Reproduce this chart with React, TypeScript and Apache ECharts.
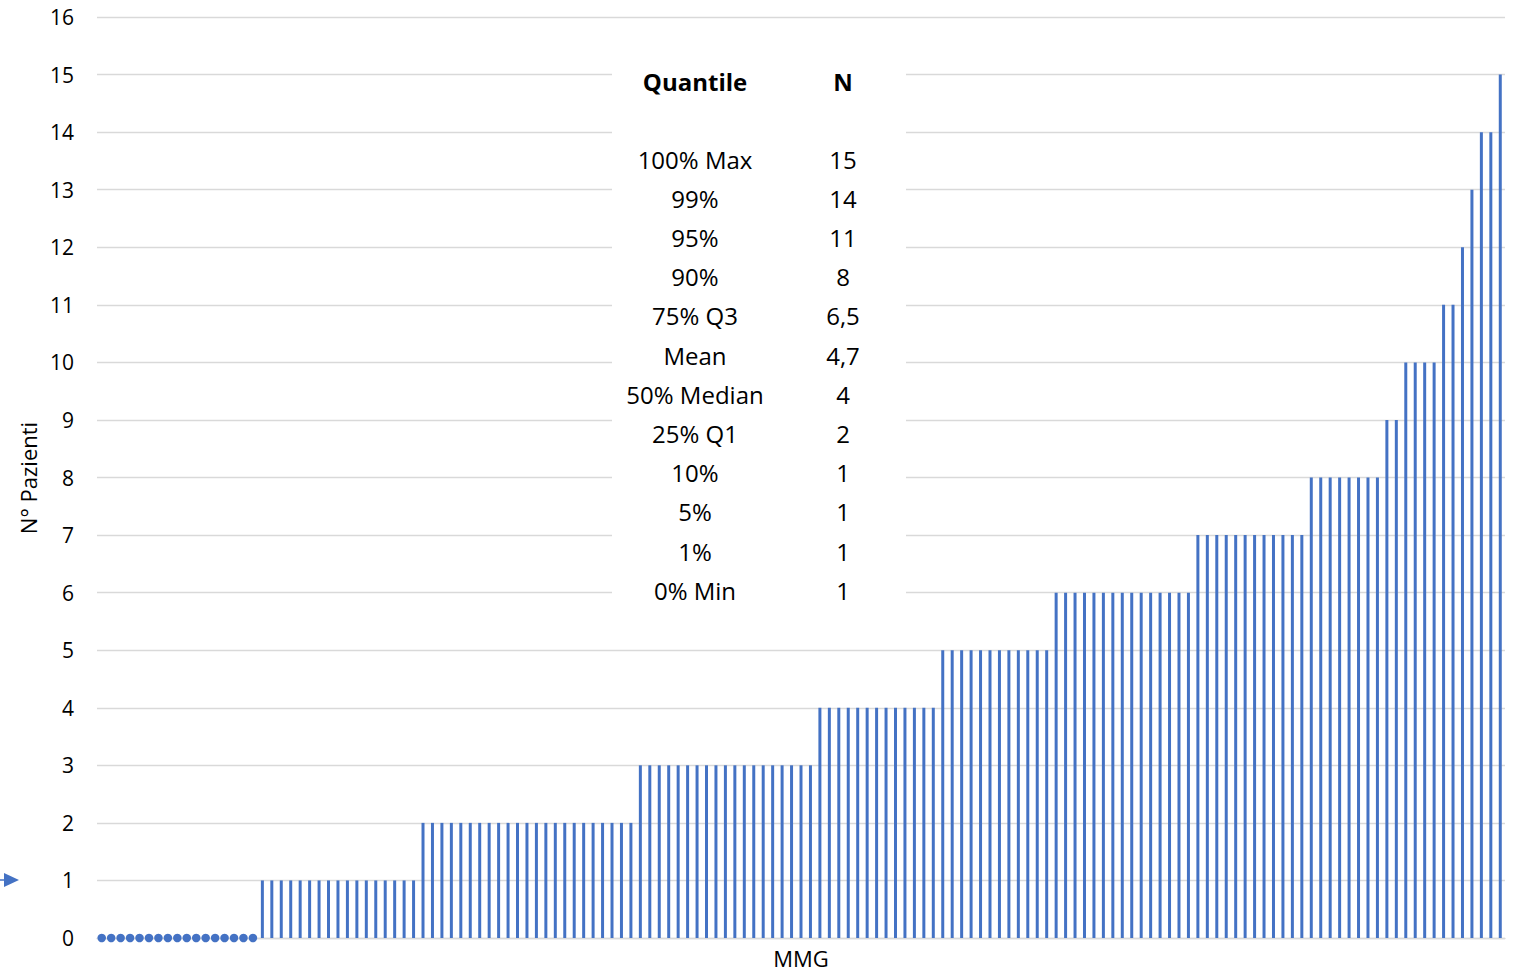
import React, { useEffect, useRef } from "react";
import * as echarts from "echarts";

// N° Pazienti per MMG, sorted ascending
const values: number[] = [
  0, 0, 0, 0, 0, 0, 0, 0, 0, 0, 0, 0, 0, 0, 0, 0, 0,
  1, 1, 1, 1, 1, 1, 1, 1, 1, 1, 1, 1, 1, 1, 1, 1, 1,
  2, 2, 2, 2, 2, 2, 2, 2, 2, 2, 2, 2, 2, 2, 2, 2, 2, 2, 2, 2, 2, 2, 2,
  3, 3, 3, 3, 3, 3, 3, 3, 3, 3, 3, 3, 3, 3, 3, 3, 3, 3, 3,
  4, 4, 4, 4, 4, 4, 4, 4, 4, 4, 4, 4, 4,
  5, 5, 5, 5, 5, 5, 5, 5, 5, 5, 5, 5,
  6, 6, 6, 6, 6, 6, 6, 6, 6, 6, 6, 6, 6, 6, 6,
  7, 7, 7, 7, 7, 7, 7, 7, 7, 7, 7, 7,
  8, 8, 8, 8, 8, 8, 8, 8,
  9, 9,
  10, 10, 10, 10,
  11, 11,
  12,
  13,
  14, 14,
  15,
];
const categories: string[] = values.map((_, i) => `MMG ${i + 1}`);

const quantileLabels: string[] = [
  "100% Max", "99%", "95%", "90%", "75% Q3", "Mean",
  "50% Median", "25% Q1", "10%", "5%", "1%", "0% Min",
];
const quantileValues: string[] = ["15", "14", "11", "8", "6,5", "4,7", "4", "2", "1", "1", "1", "1"];

const yTicks = { min: 0, max: 16, interval: 1 };

const BLUE = "#4472c4";
const FONT = "'Open Sans', sans-serif";

export default function App() {
  const ref = useRef<HTMLDivElement>(null);
  useEffect(() => {
    if (!ref.current) return;
    const chart = echarts.init(ref.current, null, { renderer: "svg" });

    const tableTexts: any[] = [];
    tableTexts.push({
      type: "text", x: 695, y: 81, z: 20,
      style: { text: "Quantile", fill: "#000", font: `bold 24px ${FONT}`, align: "center", verticalAlign: "middle" },
    });
    tableTexts.push({
      type: "text", x: 843, y: 81, z: 20,
      style: { text: "N", fill: "#000", font: `bold 24px ${FONT}`, align: "center", verticalAlign: "middle" },
    });
    quantileLabels.forEach((lab, i) => {
      const y = 159 + i * 39.2;
      tableTexts.push({
        type: "text", x: 695, y, z: 20,
        style: { text: lab, fill: "#000", font: `24px ${FONT}`, align: "center", verticalAlign: "middle" },
      });
      tableTexts.push({
        type: "text", x: 843, y, z: 20,
        style: { text: quantileValues[i], fill: "#000", font: `24px ${FONT}`, align: "center", verticalAlign: "middle" },
      });
    });

    chart.setOption({
      animation: false,
      backgroundColor: "#fff",
      grid: { left: 97, right: 12, top: 17, bottom: 34, containLabel: false },
      xAxis: {
        type: "category",
        data: categories,
        axisLine: { show: true, lineStyle: { color: "#d9d9d9", width: 1.3 } },
        axisTick: { show: false },
        axisLabel: { show: false },
        splitLine: { show: false },
      },
      yAxis: {
        type: "value",
        min: yTicks.min,
        max: yTicks.max,
        interval: yTicks.interval,
        axisLine: { show: false },
        axisTick: { show: false },
        axisLabel: { color: "#000", fontSize: 21, fontFamily: FONT, margin: 23 },
        splitLine: { lineStyle: { color: "#d9d9d9", width: 1.3 } },
      },
      series: [
        {
          type: "bar",
          data: values,
          barWidth: 3,
          itemStyle: { color: BLUE },
          z: 2,
        },
        {
          type: "scatter",
          data: values.map((v) => (v === 0 ? v : "-")),
          symbol: "circle",
          symbolSize: 8.5,
          itemStyle: { color: BLUE, opacity: 1 },
          z: 3,
        },
      ],
      graphic: [
        {
          type: "rect", z: 10,
          shape: { x: 612, y: 40, width: 294, height: 572 },
          style: { fill: "#fff" },
        },
        ...tableTexts,
        {
          type: "text", x: 801, y: 958, z: 20,
          style: { text: "MMG", fill: "#000", font: `22px ${FONT}`, align: "center", verticalAlign: "middle" },
        },
        {
          type: "text", x: 28, y: 478, rotation: Math.PI / 2, z: 20,
          style: { text: "N° Pazienti", fill: "#000", font: `22px ${FONT}`, align: "center", verticalAlign: "middle" },
        },
        {
          type: "line", z: 20,
          shape: { x1: 0, y1: 880, x2: 5, y2: 880 },
          style: { stroke: BLUE, lineWidth: 1.5 },
        },
        {
          type: "polygon", z: 20,
          shape: { points: [[4, 873], [19, 880], [4, 887]] },
          style: { fill: BLUE },
        },
      ],
    });
    return () => chart.dispose();
  }, []);
  return (
    <div
      ref={ref}
      style={{ position: "fixed", left: 0, top: 0, width: 1517, height: 972 }}
    />
  );
}
